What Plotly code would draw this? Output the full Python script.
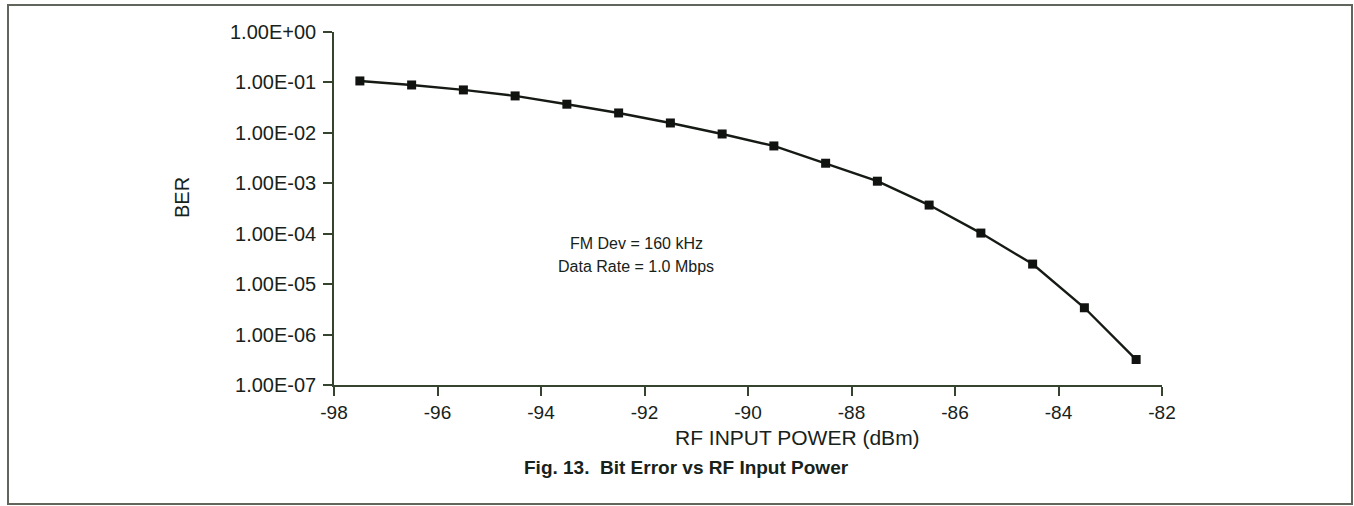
import plotly.graph_objects as go

# Measured bit error rate against RF input power
rf_power_dbm = [-97.5, -96.5, -95.5, -94.5, -93.5, -92.5, -91.5, -90.5,
                -89.5, -88.5, -87.5, -86.5, -85.5, -84.5, -83.5, -82.5]
ber = [1.07e-1, 8.9e-2, 7.1e-2, 5.4e-2, 3.7e-2, 2.48e-2, 1.57e-2, 9.5e-3,
       5.5e-3, 2.5e-3, 1.1e-3, 3.7e-4, 1.03e-4, 2.5e-5, 3.4e-6, 3.2e-7]

y_tick_vals = [1e0, 1e-1, 1e-2, 1e-3, 1e-4, 1e-5, 1e-6, 1e-7]
y_tick_text = ["1.00E+00", "1.00E-01", "1.00E-02", "1.00E-03",
               "1.00E-04", "1.00E-05", "1.00E-06", "1.00E-07"]
x_tick_vals = [-98, -96, -94, -92, -90, -88, -86, -84, -82]
x_tick_text = ["-98", "-96", "-94", "-92", "-90", "-88", "-86", "-84", "-82"]

W, H = 1354, 506
ML, MR, MT, MB = 334, 192, 32, 121
PW, PH = W - ML - MR, H - MT - MB

INK = "#17221a"
AXIS = "#35432f"
FONT = "Liberation Sans, Arial, Helvetica, sans-serif"


def px(x):
    return (x - ML) / PW


def py(y):
    return (H - MB - y) / PH


fig = go.Figure()
fig.add_trace(go.Scatter(
    x=rf_power_dbm, y=ber, mode="lines+markers",
    line=dict(color="#161a14", width=2.4),
    marker=dict(symbol="square", size=9, color="#111310"),
    showlegend=False, hoverinfo="x+y",
))

fig.update_layout(
    width=W, height=H,
    margin=dict(l=ML, r=MR, t=MT, b=MB),
    paper_bgcolor="white", plot_bgcolor="white",
    font=dict(family=FONT, color=INK, size=20),
    xaxis=dict(
        range=[-98, -82], tickvals=x_tick_vals, ticktext=x_tick_text,
        ticks="outside", ticklen=9, tickwidth=1.5, tickcolor=AXIS,
        showline=True, linecolor=AXIS, linewidth=1.6,
        showgrid=False, zeroline=False,
        tickfont=dict(size=19, color=INK),
    ),
    yaxis=dict(
        type="log", range=[-7, 0],
        tickvals=y_tick_vals, ticktext=y_tick_text,
        ticks="outside", ticklen=9, tickwidth=1.5, tickcolor=AXIS,
        showline=True, linecolor=AXIS, linewidth=1.6,
        showgrid=False, zeroline=False,
        tickfont=dict(size=20, color=INK),
        ticklabelstandoff=3,
    ),
    shapes=[dict(
        type="rect", xref="paper", yref="paper",
        x0=px(8), x1=px(1352), y0=py(504), y1=py(5),
        line=dict(color="#60665c", width=2),
    )],
    annotations=[
        dict(text="BER", textangle=-90, x=px(182), y=py(198),
             xref="paper", yref="paper", xanchor="center", yanchor="middle",
             showarrow=False, font=dict(size=20, color=INK)),
        dict(text="RF INPUT POWER (dBm)", x=px(797), y=py(451),
             xref="paper", yref="paper", showarrow=False,
             font=dict(size=21, color=INK)),
        dict(text="<b>Fig. 13.\u00a0 Bit Error vs RF Input Power</b>",
             x=px(686), y=py(480), xref="paper", yref="paper",
             showarrow=False, font=dict(size=19, color=INK)),
        dict(text="FM Dev = 160 kHz", x=px(636), y=py(244),
             xref="paper", yref="paper", showarrow=False,
             font=dict(size=16, color=INK)),
        dict(text="Data Rate = 1.0 Mbps", x=px(636), y=py(266),
             xref="paper", yref="paper", showarrow=False,
             font=dict(size=16, color=INK)),
    ],
)

fig.write_html("out.html")
